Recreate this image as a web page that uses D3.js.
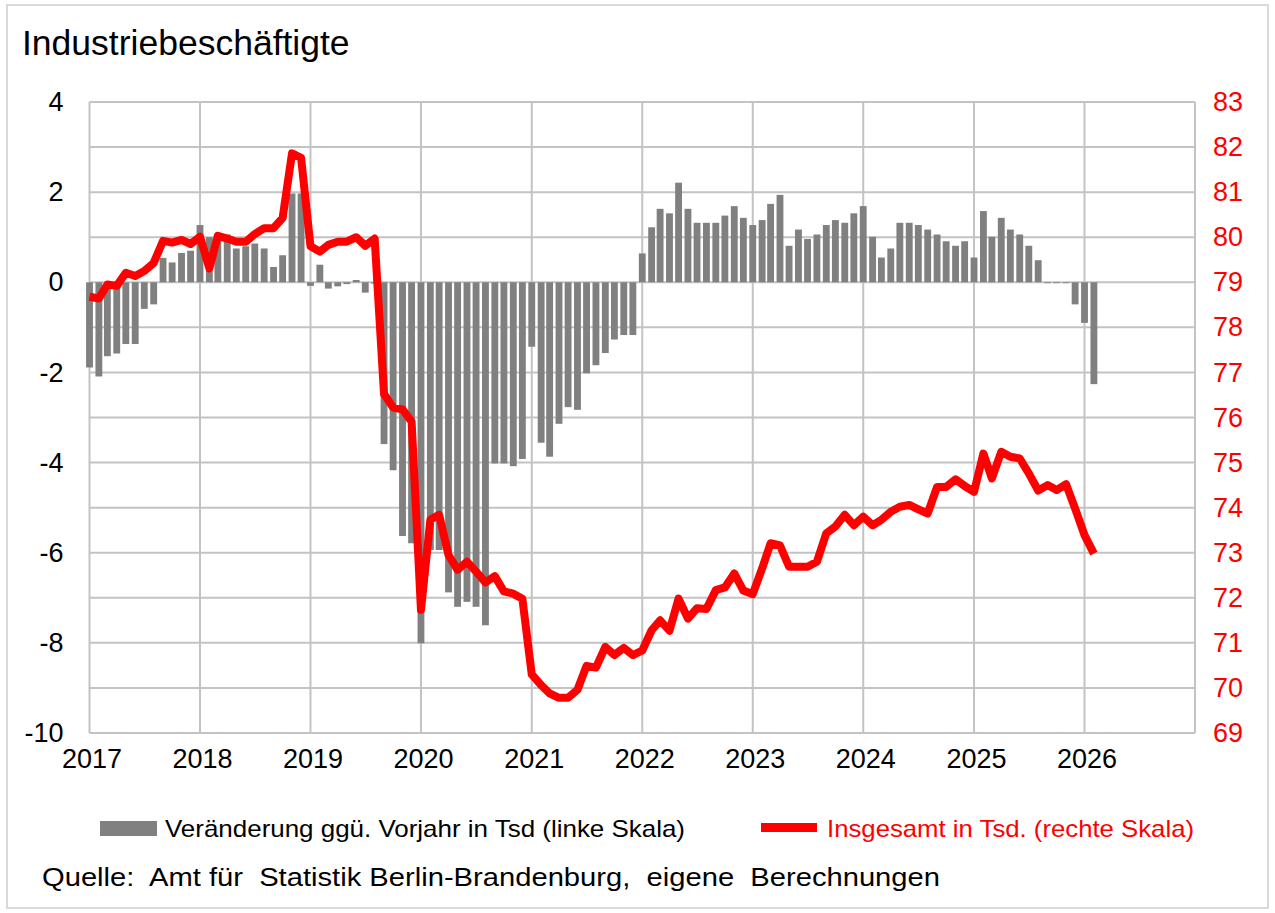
<!DOCTYPE html>
<html lang="de">
<head>
<meta charset="utf-8">
<title>Industriebeschäftigte</title>
<script src="https://cdn.jsdelivr.net/npm/d3@7"></script>
<style>
  html, body { margin: 0; padding: 0; background: #fff; }
  svg { display: block; font-family: "Liberation Sans", Arial, sans-serif; }
</style>
</head>
<body>
<svg id="chart" width="1275" height="913"></svg>
<script>
// Monthly observations, Jan 2017 – Feb 2026
const startMonth = new Date(2017, 0, 1);
const monthCount = 110;

// Change versus previous year, thousand persons (left scale)
const changeValues = [
  -1.89, -2.09, -1.64, -1.58, -1.37, -1.37, -0.59, -0.49, 0.54, 0.44, 0.65, 0.70,
  1.27, 1.00, 1.07, 1.06, 0.75, 0.80, 0.86, 0.75, 0.34, 0.60, 1.97, 1.97,
  -0.08, 0.39, -0.14, -0.09, -0.04, 0.05, -0.23, -0.03, -3.59, -4.17, -5.63, -5.79,
  -8.01, -5.94, -5.94, -6.88, -7.20, -7.09, -7.20, -7.61, -4.02, -4.02, -4.08, -3.92,
  -1.43, -3.56, -3.87, -3.14, -2.77, -2.83, -2.02, -1.84, -1.57, -1.27, -1.17, -1.17,
  0.64, 1.22, 1.63, 1.53, 2.21, 1.63, 1.32, 1.32, 1.32, 1.48, 1.69, 1.43,
  1.27, 1.38, 1.74, 1.94, 0.81, 1.17, 0.96, 1.06, 1.27, 1.38, 1.32, 1.53,
  1.69, 1.01, 0.55, 0.75, 1.32, 1.32, 1.27, 1.17, 1.06, 0.91, 0.81, 0.91,
  0.55, 1.58, 1.01, 1.43, 1.17, 1.06, 0.81, 0.49, -0.02, -0.02, -0.02, -0.49,
  -0.90, -2.26
];

// Total industrial employment, thousand persons (right scale)
const totalValues = [
  78.68, 78.64, 78.95, 78.92, 79.21, 79.14, 79.25, 79.43, 79.92, 79.88, 79.94, 79.85,
  80.01, 79.31, 80.03, 79.97, 79.90, 79.90, 80.07, 80.20, 80.20, 80.43, 81.86, 81.76,
  79.80, 79.68, 79.83, 79.90, 79.90, 80.00, 79.81, 79.97, 76.52, 76.22, 76.18, 75.91,
  71.73, 73.73, 73.84, 72.95, 72.62, 72.80, 72.58, 72.34, 72.48, 72.14, 72.09, 71.98,
  70.30, 70.06, 69.88, 69.78, 69.78, 69.96, 70.49, 70.45, 70.91, 70.73, 70.89, 70.73,
  70.83, 71.28, 71.50, 71.27, 71.98, 71.54, 71.77, 71.75, 72.17, 72.23, 72.54, 72.16,
  72.08, 72.65, 73.21, 73.16, 72.69, 72.69, 72.69, 72.80, 73.43, 73.58, 73.84, 73.61,
  73.80, 73.61, 73.73, 73.91, 74.02, 74.06, 73.96, 73.87, 74.46, 74.46, 74.63, 74.48,
  74.35, 75.20, 74.65, 75.24, 75.13, 75.09, 74.76, 74.38, 74.50, 74.39, 74.52, 73.98,
  73.39, 72.98
];

// Axis ticks
const yearTicks = d3.range(2017, 2028).map(y => new Date(y, 0, 1));
const yearLabels = d3.range(2017, 2027).map(y => new Date(y, 0, 1));
const leftGrid = d3.range(-10, 5, 1);
const leftLabels = d3.range(-10, 5, 2);
const rightLabels = d3.range(69, 84, 1);

const titleText = "Industriebeschäftigte";
const legendBarText = "Veränderung ggü. Vorjahr in Tsd (linke Skala)";
const legendLineText = "Insgesamt in Tsd. (rechte Skala)";
const sourceText = "Quelle:  Amt für  Statistik Berlin-Brandenburg,  eigene  Berechnungen";

const months = d3.range(monthCount).map(i => d3.timeMonth.offset(startMonth, i));

const svg = d3.select("#chart");
const plot = { left: 89.5, right: 1195, top: 102, bottom: 733 };

const x = d3.scaleTime()
  .domain([new Date(2017, 0, 1), new Date(2027, 0, 1)])
  .range([plot.left, plot.right]);
const yL = d3.scaleLinear().domain([-10, 4]).range([plot.bottom, plot.top]);
const yR = d3.scaleLinear().domain([69, 83]).range([plot.bottom, plot.top]);

const gridColor = "#c3c3c3";
const fontStack = "'Liberation Sans', Arial, sans-serif";

// Outer frame
svg.append("rect")
  .attr("x", 7).attr("y", 5).attr("width", 1261).attr("height", 903)
  .attr("fill", "none").attr("stroke", "#d9d9d9").attr("stroke-width", 2);

// Title
svg.append("text")
  .attr("x", 22).attr("y", 55)
  .attr("font-size", 35.5).attr("fill", "#000")
  .text(titleText);

// Gridlines
const grid = svg.append("g");
grid.selectAll("line.h").data(leftGrid).join("line")
  .attr("x1", plot.left).attr("x2", plot.right)
  .attr("y1", d => yL(d)).attr("y2", d => yL(d))
  .attr("stroke", gridColor).attr("stroke-width", 2);
grid.selectAll("line.v").data(yearTicks).join("line")
  .attr("x1", d => x(d)).attr("x2", d => x(d))
  .attr("y1", plot.top).attr("y2", plot.bottom)
  .attr("stroke", gridColor).attr("stroke-width", 2);

// Bars
const monthWidth = x(new Date(2017, 1, 1)) - x(new Date(2017, 0, 1));
const barW = monthWidth * 0.73;
svg.append("g").selectAll("rect").data(changeValues).join("rect")
  .attr("x", (d, i) => x(months[i]) - barW / 2)
  .attr("y", d => yL(Math.max(0, d)))
  .attr("width", barW)
  .attr("height", d => Math.abs(yL(d) - yL(0)))
  .attr("fill", "#808080");

// Line
const line = d3.line()
  .x((d, i) => x(months[i]))
  .y(d => yR(d))
  .curve(d3.curveLinear);
svg.append("path")
  .datum(totalValues)
  .attr("d", line)
  .attr("fill", "none")
  .attr("stroke", "#ff0000")
  .attr("stroke-width", 8)
  .attr("stroke-linejoin", "round")
  .attr("stroke-linecap", "butt");

// Axes
const axisFont = 27;
const plainNumber = d => String(d);

const xAxis = svg.append("g")
  .attr("transform", `translate(0,${plot.bottom})`)
  .call(d3.axisBottom(x).tickValues(yearLabels).tickSize(0).tickPadding(16)
    .tickFormat(d3.timeFormat("%Y")));
xAxis.select(".domain").remove();
xAxis.selectAll("text")
  .attr("font-size", axisFont).attr("fill", "#000")
  .attr("font-family", fontStack)
  .attr("dx", 2);

const yAxisL = svg.append("g")
  .attr("transform", `translate(${plot.left},0)`)
  .call(d3.axisLeft(yL).tickValues(leftLabels).tickSize(0).tickPadding(26)
    .tickFormat(plainNumber));
yAxisL.select(".domain").remove();
yAxisL.selectAll("text")
  .attr("font-size", axisFont).attr("fill", "#000")
  .attr("font-family", fontStack);

const yAxisR = svg.append("g")
  .attr("transform", `translate(${plot.right},0)`)
  .call(d3.axisRight(yR).tickValues(rightLabels).tickSize(0).tickPadding(18)
    .tickFormat(plainNumber));
yAxisR.select(".domain").remove();
yAxisR.selectAll("text")
  .attr("font-size", axisFont).attr("fill", "#ff0000")
  .attr("font-family", fontStack);

// Legend
const legend = svg.append("g");
legend.append("rect")
  .attr("x", 100).attr("y", 821).attr("width", 57).attr("height", 15)
  .attr("fill", "#808080");
legend.append("text")
  .attr("x", 165).attr("y", 837)
  .attr("font-size", 24).attr("fill", "#000")
  .attr("textLength", 520).attr("lengthAdjust", "spacingAndGlyphs")
  .text(legendBarText);
legend.append("line")
  .attr("x1", 761).attr("x2", 817).attr("y1", 827.5).attr("y2", 827.5)
  .attr("stroke", "#ff0000").attr("stroke-width", 9);
legend.append("text")
  .attr("x", 827).attr("y", 837)
  .attr("font-size", 24).attr("fill", "#ff0000")
  .attr("textLength", 367).attr("lengthAdjust", "spacingAndGlyphs")
  .text(legendLineText);

// Source note
svg.append("text")
  .attr("x", 42).attr("y", 886)
  .attr("font-size", 26).attr("fill", "#000")
  .attr("xml:space", "preserve")
  .style("white-space", "pre")
  .attr("textLength", 898).attr("lengthAdjust", "spacingAndGlyphs")
  .text(sourceText);
</script>
</body>
</html>
